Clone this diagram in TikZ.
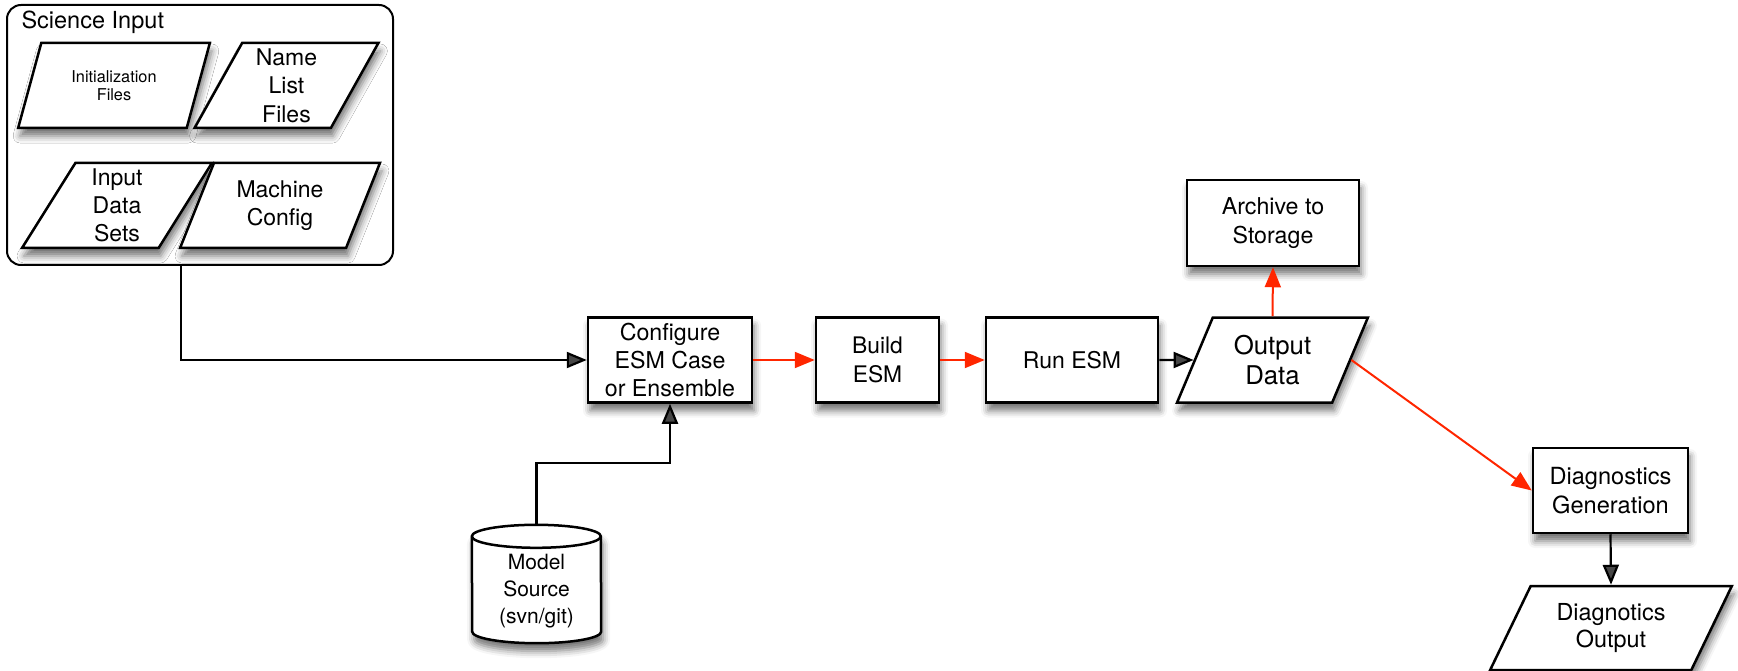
\documentclass[tikz,border=0pt]{standalone}
\usepackage{fontspec}
\setmainfont{TeX Gyre Heros}
\usetikzlibrary{shapes.geometric,arrows.meta,shadows.blur}
\definecolor{flowred}{RGB}{255,38,0}
\tikzset{
  lbl/.style={font=\fontsize{23}{28.3}\selectfont, align=center},
  fsize/.style 2 args={font=\fontsize{#1}{#2}\selectfont},
  outline/.style={draw, line width=2.5pt, fill=white, inner sep=0pt},
  soft/.style={blur shadow={shadow xshift=2pt, shadow yshift=-8pt,
      shadow blur radius=7pt, shadow opacity=55}},
  stepbox/.style={outline, soft, lbl, rectangle},
  databox/.style={outline, soft, lbl, trapezium, trapezium stretches=true,
      trapezium left angle=66, trapezium right angle=114},
  link/.style={line width=2.2pt, -{Triangle[length=20pt,width=16pt]}},
  redlink/.style={link, line width=2pt, color=flowred}
}
\begin{document}
\begin{tikzpicture}[x=1pt, y=-1pt]
\useasboundingbox (0,0) rectangle (1738,671);

% science input group
\node[outline, line width=2pt, rounded corners=14pt,
      minimum width=386pt, minimum height=260pt] (sci) at (200,135) {};
\node[fsize={23.5}{26}, anchor=west] (scititle) at (18,22) {Science Input};
\node[databox, minimum width=192pt, minimum height=85pt,
      fsize={16.3}{18.3}] (init) at (114,85.5) {Initialization\\Files};
\node[databox, minimum width=184pt, minimum height=85pt] (names) at (286.5,85.5) {Name\\List\\Files};
\node[databox, minimum width=190pt, minimum height=85pt] (inputs) at (117,205.5) {Input\\Data\\Sets};
\node[databox, minimum width=200pt, minimum height=85pt] (machine) at (280,205.5) {Machine\\Config};

% main chain
\node[stepbox, minimum width=164pt, minimum height=85pt, fsize={23.2}{28.3}] (conf) at (670,360) {Configure\\ESM Case\\or Ensemble};
\node[stepbox, minimum width=123pt, minimum height=85pt, fsize={22.8}{28.3}] (build) at (877.5,360) {Build\\ESM};
\node[stepbox, minimum width=172pt, minimum height=85pt] (run) at (1072,360) {Run ESM};
\node[databox, trapezium left angle=65, trapezium right angle=115, fsize={25.8}{30},
      minimum width=191pt, minimum height=85pt] (out) at (1272.5,360) {Output\\Data};
\node[stepbox, minimum width=172pt, minimum height=86pt, fsize={23.2}{28.3}] (arch) at (1273,223) {Archive to\\Storage};
\node[stepbox, minimum width=155pt, minimum height=85pt, fsize={23.6}{28.3}] (diag) at (1610.5,490.5) {Diagnostics\\Generation};
\node[databox, trapezium left angle=61, trapezium right angle=119, fsize={23.4}{27.5},
      minimum width=242pt, minimum height=84pt] (dout) at (1611,628) {Diagnotics\\Output};

% model source cylinder
\node[minimum width=129pt, minimum height=118pt, inner sep=0pt] (src) at (536.5,584) {};
\path[outline, soft]
  ([yshift=-11.5pt]src.north west)
    arc[start angle=180, end angle=0, x radius=64.5pt, y radius=11.5pt]
    -- ([yshift=11.5pt]src.south east)
    arc[start angle=0, end angle=-180, x radius=64.5pt, y radius=11.5pt]
    -- cycle;
\draw[line width=2.5pt] ([yshift=-11.5pt]src.north west)
    arc[start angle=180, end angle=360, x radius=64.5pt, y radius=11.5pt];
\node[lbl, fsize={21}{26.7}] (srctext) at (536.5,591) {Model\\Source\\(svn/git)};

% connectors
\draw[link] ([xshift=-19pt]sci.south) |- (conf.west);
\draw[link] (src.north) -- ++(0,-62) -| (conf.south);
\draw[redlink] (conf.east) -- (build.west);
\draw[redlink] (build.east) -- (run.west);
\draw[link] (run.east) -- (out.west);
\draw[redlink] (out.north) -- (arch.south);
\draw[redlink] (out.east) -- (diag.west);
\draw[link] (diag.south) -- (dout.north);
\end{tikzpicture}
\end{document}
